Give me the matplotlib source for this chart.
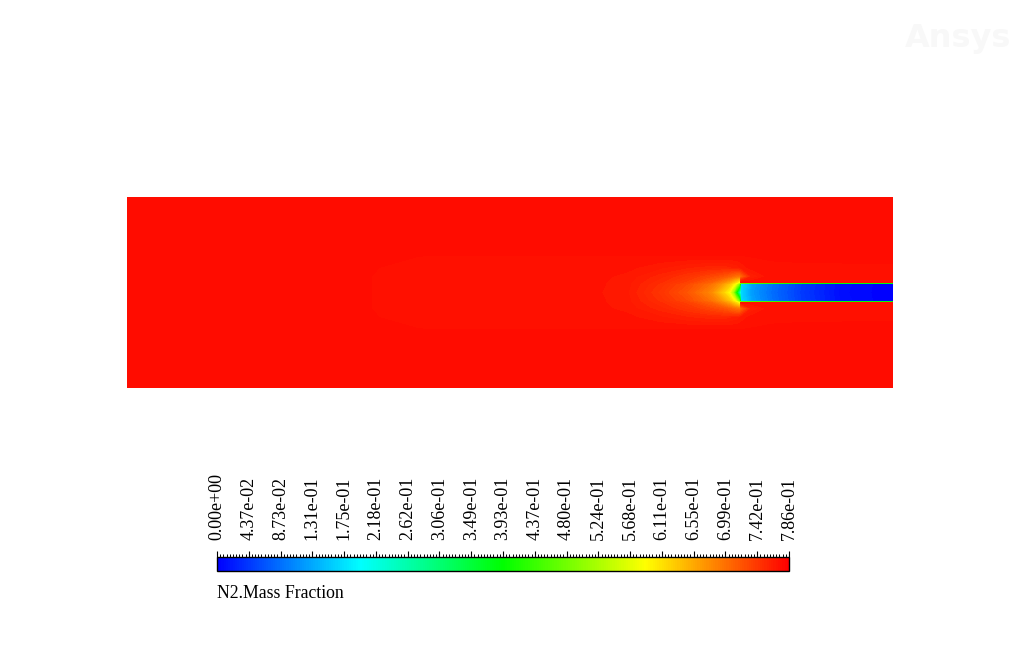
#contour of N2 mass fraction, jet coming in from the right

import numpy as np
import matplotlib
matplotlib.use('Agg')
import matplotlib.pyplot as plt
from matplotlib.colors import LinearSegmentedColormap, Normalize
from matplotlib.cm import ScalarMappable

# stations along the domain (x) and offsets from the centreline (y), same units as the domain
x_stations = [0, 220, 300, 450, 500, 533, 560, 583, 595, 602, 606, 609, 612, 613, 614, 625, 645, 675, 715, 766]
y_offsets = [0, 9, 10, 16, 25, 36, 45, 95.5]

# N2 mass fraction, one row per y offset
row_y0 = [0.776, 0.7733, 0.772, 0.772, 0.765, 0.745, 0.72, 0.68, 0.63, 0.59, 0.52, 0.40, 0.27, 0.22, 0.17, 0.12, 0.085, 0.045, 0.01, 0.0]
row_y9 = [0.776, 0.7733, 0.772, 0.772, 0.766, 0.75, 0.73, 0.70, 0.67, 0.64, 0.61, 0.58, 0.50, 0.40, 0.17, 0.125, 0.088, 0.047, 0.011, 0.0]
row_y10 = [0.776, 0.7733, 0.772, 0.772, 0.766, 0.752, 0.735, 0.71, 0.68, 0.655, 0.63, 0.61, 0.58, 0.57, 0.772, 0.772, 0.772, 0.772, 0.772, 0.772]
row_y16 = [0.776, 0.7733, 0.772, 0.772, 0.767, 0.757, 0.745, 0.73, 0.72, 0.71, 0.70, 0.695, 0.69, 0.69, 0.70, 0.76, 0.772, 0.772, 0.772, 0.772]
row_y25 = [0.776, 0.7735, 0.772, 0.772, 0.770, 0.765, 0.76, 0.757, 0.757, 0.758, 0.76, 0.761, 0.763, 0.764, 0.765, 0.771, 0.772, 0.772, 0.772, 0.772]
row_y36 = [0.776, 0.776, 0.7725, 0.7725, 0.7725, 0.7725, 0.7725, 0.7725, 0.7725, 0.7725, 0.7725, 0.7725, 0.7725, 0.7725, 0.7725, 0.773, 0.7735, 0.774, 0.7742, 0.7745]
row_y45 = [0.776] * 20
row_y95 = [0.776] * 20

vmin = 0.0
vmax = 0.786
n_labels = 19
label_name = 'N2.Mass Fraction'

fluent_colors = ['#0000ff', '#00ffff', '#00ff00', '#ffff00', '#ff0000']
cmap = LinearSegmentedColormap.from_list('fluent', fluent_colors)

rows = [row_y0, row_y9, row_y10, row_y16, row_y25, row_y36, row_y45, row_y95]
half = np.array(rows)
y = np.concatenate([-np.array(y_offsets[::-1]), np.array(y_offsets[1:])])
field = np.vstack([half[::-1], half[1:]])

fig = plt.figure(figsize=(10.22, 6.64), dpi=100)

# domain
ax = fig.add_axes([127/1022, 1-388/664, 766/1022, 191/664])
levels = np.linspace(vmin, vmax, 181)
ax.contourf(x_stations, y, field, levels=levels, cmap=cmap, vmin=vmin, vmax=vmax)
ax.set_xlim(0, 766)
ax.set_ylim(-95.5, 95.5)
ax.axis('off')

# colour bar with the labels on top
cax = fig.add_axes([217/1022, 1-571/664, 572/1022, 14/664])
sm = ScalarMappable(norm=Normalize(vmin, vmax), cmap=cmap)
cb = fig.colorbar(sm, cax=cax, orientation='horizontal')
ticks = np.linspace(vmin, vmax, n_labels)
cb.set_ticks(ticks)
cb.set_ticklabels(['%.2e' % t for t in ticks])
cax.xaxis.set_ticks_position('top')
cax.xaxis.set_label_position('top')
cax.set_xticks(np.linspace(vmin, vmax, (n_labels-1)*10+1), minor=True)
cax.tick_params(axis='x', which='major', direction='out', length=4, width=0.8, pad=8,
                labelrotation=90, labelsize=13, top=True, bottom=False)
cax.tick_params(axis='x', which='minor', direction='out', length=2, width=0.7, top=True, bottom=False)
for lab in cax.get_xticklabels():
    lab.set_fontfamily('Liberation Serif')
cb.outline.set_linewidth(1.0)
cb.outline.set_edgecolor('black')

fig.text(217/1022, 1-598/664, label_name, fontsize=12.8, family='Liberation Serif',
         ha='left', va='baseline')

# faint watermark top right
fig.text(905/1022, 1-47/664, 'Ansys', fontsize=23, fontweight='bold', color='#f8f8f8',
         ha='left', va='baseline')

fig.savefig('out.png', dpi=100)
